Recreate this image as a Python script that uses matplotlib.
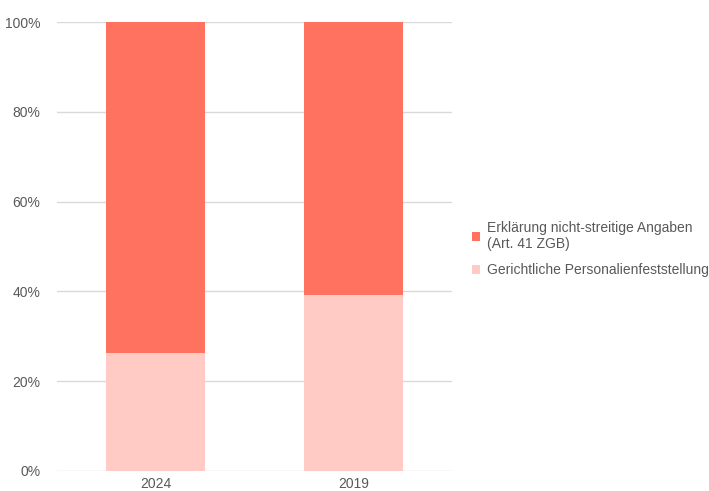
import matplotlib
matplotlib.use("Agg")
import matplotlib.pyplot as plt
from matplotlib.ticker import PercentFormatter

categories = ["2024", "2019"]
gerichtlich = [26.2, 39.2]
erklaerung = [73.8, 60.8]
series_labels = ["Erklärung nicht-streitige Angaben\n(Art. 41 ZGB)",
                 "Gerichtliche Personalienfeststellung"]
yticks = [0, 20, 40, 60, 80, 100]

plt.rcParams['font.family'] = ['Liberation Sans', 'DejaVu Sans']

fig = plt.figure(figsize=(7.09, 4.91), dpi=100)
ax = fig.add_axes([57/709, 1-471/491, (452-57)/709, (471-22)/491])

x = range(len(categories))
b1 = ax.bar(x, gerichtlich, width=0.5, color="#FFCBC4", zorder=3)
b2 = ax.bar(x, erklaerung, width=0.5, bottom=gerichtlich, color="#FF7260", zorder=3)

ax.set_xlim(-0.5, 1.5)
ax.set_ylim(0, 100)
ax.set_yticks(yticks)
ax.yaxis.set_major_formatter(PercentFormatter(decimals=0))
ax.set_xticks(list(x))
ax.set_xticklabels(categories)
ax.grid(axis="y", color="#D9D9D9", linewidth=1, zorder=0)
for s in ax.spines.values():
    s.set_visible(False)
ax.tick_params(axis="both", length=0, colors="#595959", labelsize=10)
ax.tick_params(axis="y", pad=12)
ax.tick_params(axis="x", pad=4)

leg = fig.legend([b2, b1], series_labels, loc="upper left",
                 bbox_to_anchor=(472/709, 1-221/491), frameon=False,
                 fontsize=10, labelcolor="#595959", handlelength=0.6,
                 handleheight=0.6, handletextpad=0.45, labelspacing=0.85,
                 borderaxespad=0, borderpad=0)

fig.savefig("out.png", dpi=100)
